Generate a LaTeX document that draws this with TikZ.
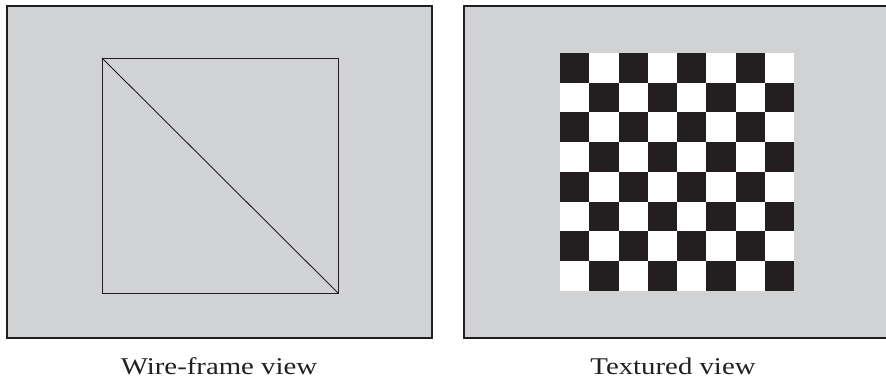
\documentclass[tikz,border=0pt]{standalone}
\usepackage{fontspec}
\usepackage{tikz}
\usetikzlibrary{positioning,calc}
\newfontfamily\capfont{Liberation Serif}[FakeStretch=1.2]
\definecolor{panelgray}{HTML}{D1D2D4}
\definecolor{inkblack}{HTML}{231F20}

\begin{document}
\begin{tikzpicture}[
 x=1pt,y=-1pt,
 font=\capfont\fontsize{24}{28}\selectfont,
 panel/.style={draw=inkblack,fill=panelgray,line width=1.3pt},
 wire/.style={draw=inkblack,line width=0.9pt},
 cell/.style={fill=inkblack},
 caption/.style={anchor=base,text=inkblack}
]
\useasboundingbox (0,0) rectangle (886,382);
% the two views
\draw[panel] (7,6) rectangle (432,338);
\draw[panel] (464,6) rectangle (889,338);
% wire-frame square and its diagonal
\coordinate (wiretl) at (102,58);
\coordinate (wirebr) at (338,293);
\draw[wire] (wiretl) rectangle (wirebr);
\draw[wire] (wiretl) -- (wirebr);
% checker texture
\coordinate (checktl) at (560,53);
\coordinate (checkbr) at (794,291);
\fill[white] (checktl) rectangle (checkbr);
\foreach \i in {0,...,7}
 \foreach \j in {0,...,7}{
  \ifodd\numexpr\i+\j\relax\else
   \fill[cell] ($(checktl)+({29.25*\j},{29.75*\i})$) rectangle +(29.25,29.75);
  \fi
 }
% captions
\node[caption] (wirecap) at (219,374) {Wire-frame view};
\node[caption] (texcap) at (673,374) {Textured view};
\end{tikzpicture}
\end{document}
